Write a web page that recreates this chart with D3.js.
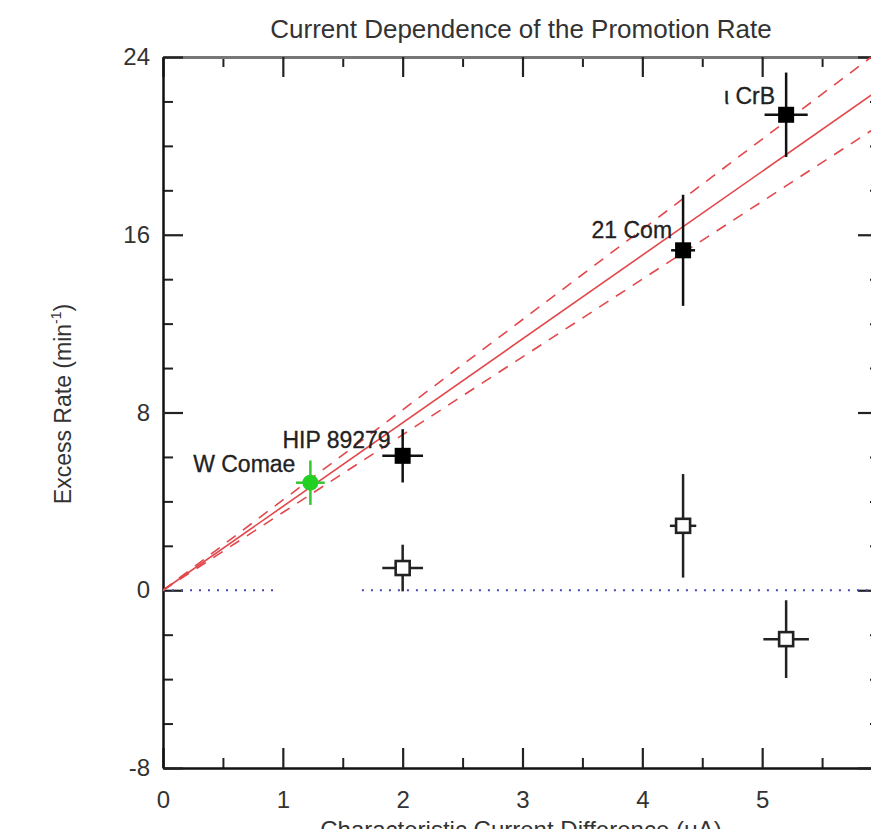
<!DOCTYPE html>
<html lang="en">
<head>
  <meta charset="UTF-8">
  <title>Current Dependence of the Promotion Rate</title>
  <script src="https://d3js.org/d3.v7.min.js"></script>
  <style>
    body {
      margin: 0;
      background: #fff;
    }
    svg {
      display: block;
      font-family: "Liberation Sans", Arial, sans-serif;
    }
    .tick text {
      fill: #333;
      font-size: 24px;
    }
    .star-label {
      fill: #222;
      stroke: #222;
      stroke-width: 0.3px;
      font-size: 23px;
    }
  </style>
</head>
<body>
  <svg width="871" height="829"></svg>

  <script>
    // stars (filled markers)
    const stars = ["W Comae", "HIP 89279", "21 Com", "\u03b9 CrB"];
    const starCurrent = [1.23, 2.0, 4.34, 5.2];
    const starCurrentErr = [0.12, 0.17, 0.1, 0.18];
    const starRate = [4.84, 6.05, 15.3, 21.4];
    const starRateErr = [1.0, 1.2, 2.5, 1.9];

    // control measurements (open squares)
    const ctrlCurrent = [2.0, 4.34, 5.2];
    const ctrlCurrentErr = [0.17, 0.11, 0.19];
    const ctrlRate = [1.0, 2.9, -2.2];
    const ctrlRateErr = [1.05, 2.33, 1.75];

    // fit through origin and its band
    const fitSlope = 3.77;
    const fitSlopeLow = 3.5;
    const fitSlopeHigh = 4.06;

    // dotted zero line pieces
    const zeroLineSegments = [[0, 0.94], [1.66, 6]];

    const xMajor = [0, 1, 2, 3, 4, 5, 6];
    const xMinor = [0.5, 1.5, 2.5, 3.5, 4.5, 5.5];
    const yMajor = [-8, 0, 8, 16, 24];
    const yMinor = [-6, -4, -2, 2, 4, 6, 10, 12, 14, 18, 20, 22];

    const svg = d3.select("svg");
    const plotLeft = 163, plotRight = 882, plotTop = 57, plotBottom = 768;

    const x = d3.scaleLinear().domain([0, 6]).range([plotLeft, plotRight]);
    const y = d3.scaleLinear().domain([-8, 24]).range([plotBottom, plotTop]);

    svg.append("defs").append("clipPath").attr("id", "plot")
      .append("rect")
      .attr("x", plotLeft).attr("y", plotTop)
      .attr("width", plotRight - plotLeft).attr("height", plotBottom - plotTop);

    // title
    svg.append("text")
      .attr("x", 521).attr("y", 38)
      .attr("text-anchor", "middle")
      .attr("fill", "#333")
      .attr("font-size", 26)
      .text("Current Dependence of the Promotion Rate");

    // axes: major + minor ticks, all pointing inward
    function styleAxis(g, color, width) {
      g.select(".domain").attr("stroke", color).attr("stroke-width", width);
      g.selectAll(".tick line").attr("stroke", "#222").attr("stroke-width", 2.2);
    }
    function minorTicks(g) {
      g.select(".domain").remove();
      g.selectAll(".tick line").attr("stroke", "#222").attr("stroke-width", 2);
    }
    const plain = d => String(d);

    svg.append("g").attr("transform", `translate(0,${plotBottom})`)
      .call(d3.axisBottom(x).tickValues(xMinor).tickSize(-10).tickSizeOuter(0).tickFormat(""))
      .call(minorTicks);
    svg.append("g").attr("transform", `translate(0,${plotBottom})`)
      .call(d3.axisBottom(x).tickValues(xMajor).tickSize(-20).tickSizeOuter(0).tickPadding(23).tickFormat(plain))
      .call(g => styleAxis(g, "#111", 2.5));

    svg.append("g").attr("transform", `translate(0,${plotTop})`)
      .call(d3.axisTop(x).tickValues(xMinor).tickSize(-10).tickSizeOuter(0).tickFormat(""))
      .call(minorTicks);
    svg.append("g").attr("transform", `translate(0,${plotTop})`)
      .call(d3.axisTop(x).tickValues(xMajor).tickSize(-20).tickSizeOuter(0).tickFormat(""))
      .call(g => styleAxis(g, "#777", 3));

    svg.append("g").attr("transform", `translate(${plotLeft},0)`)
      .call(d3.axisLeft(y).tickValues(yMinor).tickSize(-10).tickSizeOuter(0).tickFormat(""))
      .call(minorTicks);
    svg.append("g").attr("transform", `translate(${plotLeft},0)`)
      .call(d3.axisLeft(y).tickValues(yMajor).tickSize(-20).tickSizeOuter(0).tickPadding(13).tickFormat(plain))
      .call(g => styleAxis(g, "#111", 2.5));

    svg.append("g").attr("transform", `translate(${plotRight},0)`)
      .call(d3.axisRight(y).tickValues(yMinor).tickSize(-12).tickSizeOuter(0).tickFormat(""))
      .call(minorTicks);
    svg.append("g").attr("transform", `translate(${plotRight},0)`)
      .call(d3.axisRight(y).tickValues(yMajor).tickSize(-24).tickSizeOuter(0).tickFormat(""))
      .call(g => styleAxis(g, "#111", 2.5));

    // axis titles
    svg.append("text")
      .attr("x", 521).attr("y", 838)
      .attr("text-anchor", "middle")
      .attr("fill", "#333")
      .attr("font-size", 24)
      .text("Characteristic Current Difference (\u03bcA)");

    const yTitle = svg.append("text")
      .attr("transform", "translate(71,404) rotate(-90)")
      .attr("text-anchor", "middle")
      .attr("fill", "#333")
      .attr("font-size", 23);
    yTitle.append("tspan").text("Excess Rate (min");
    yTitle.append("tspan").attr("font-size", 14).attr("dy", -10).text("-1");
    yTitle.append("tspan").attr("dy", 10).text(")");

    const plot = svg.append("g").attr("clip-path", "url(#plot)");

    // zero line
    plot.selectAll(".zero")
      .data(zeroLineSegments)
      .join("line")
      .attr("class", "zero")
      .attr("x1", d => x(d[0])).attr("x2", d => x(d[1]))
      .attr("y1", y(0)).attr("y2", y(0))
      .attr("stroke", "#4848b0")
      .attr("stroke-width", 2)
      .attr("stroke-dasharray", "2,7");

    // fit lines
    const fits = [
      { slope: fitSlope, dash: null },
      { slope: fitSlopeLow, dash: "11,9" },
      { slope: fitSlopeHigh, dash: "11,9" }
    ];
    plot.selectAll(".fit")
      .data(fits)
      .join("line")
      .attr("class", "fit")
      .attr("x1", x(0)).attr("y1", y(0))
      .attr("x2", x(6)).attr("y2", d => y(6 * d.slope))
      .attr("stroke", "#e2474b")
      .attr("stroke-width", 1.6)
      .attr("stroke-dasharray", d => d.dash);

    // error bars
    function errorBars(cls, xs, xe, ys, ye, color) {
      const data = xs.map((v, i) => ({ x: v, xe: xe[i], y: ys[i], ye: ye[i] }));
      const g = plot.append("g").attr("class", cls)
        .attr("stroke", color).attr("stroke-width", 2.5);
      g.selectAll(".v").data(data).join("line").attr("class", "v")
        .attr("x1", d => x(d.x)).attr("x2", d => x(d.x))
        .attr("y1", d => y(d.y - d.ye)).attr("y2", d => y(d.y + d.ye));
      g.selectAll(".h").data(data).join("line").attr("class", "h")
        .attr("x1", d => x(d.x - d.xe)).attr("x2", d => x(d.x + d.xe))
        .attr("y1", d => y(d.y)).attr("y2", d => y(d.y));
      return data;
    }

    const ctrl = errorBars("ctrl", ctrlCurrent, ctrlCurrentErr, ctrlRate, ctrlRateErr, "#222");
    plot.selectAll(".ctrl-pt")
      .data(ctrl)
      .join("rect")
      .attr("class", "ctrl-pt")
      .attr("x", d => x(d.x) - 7).attr("y", d => y(d.y) - 7)
      .attr("width", 14).attr("height", 14)
      .attr("fill", "#fff")
      .attr("stroke", "#222")
      .attr("stroke-width", 2.6);

    const starData = stars.map((name, i) => ({
      name, x: starCurrent[i], xe: starCurrentErr[i], y: starRate[i], ye: starRateErr[i]
    }));
    const squares = starData.slice(1);
    errorBars("star-err", squares.map(d => d.x), squares.map(d => d.xe),
      squares.map(d => d.y), squares.map(d => d.ye), "#111");
    plot.selectAll(".star-pt")
      .data(squares)
      .join("rect")
      .attr("class", "star-pt")
      .attr("x", d => x(d.x) - 8).attr("y", d => y(d.y) - 8)
      .attr("width", 16).attr("height", 16)
      .attr("fill", "#000");

    // W Comae in green
    const wc = starData.slice(0, 1);
    errorBars("wc-err", wc.map(d => d.x), wc.map(d => d.xe),
      wc.map(d => d.y), wc.map(d => d.ye), "#33c633");
    plot.selectAll(".wc-pt")
      .data(wc)
      .join("circle")
      .attr("class", "wc-pt")
      .attr("cx", d => x(d.x)).attr("cy", d => y(d.y))
      .attr("r", 8)
      .attr("fill", "#22d022");

    // star names, offset from their points
    const labelOffset = {
      "W Comae": [-15, -11],
      "HIP 89279": [-12, -8],
      "21 Com": [-11, -12],
      "\u03b9 CrB": [-11, -11]
    };
    svg.selectAll(".star-label")
      .data(starData)
      .join("text")
      .attr("class", "star-label")
      .attr("text-anchor", "end")
      .attr("x", d => x(d.x) + labelOffset[d.name][0])
      .attr("y", d => y(d.y) + labelOffset[d.name][1])
      .text(d => d.name);
  </script>
</body>
</html>
